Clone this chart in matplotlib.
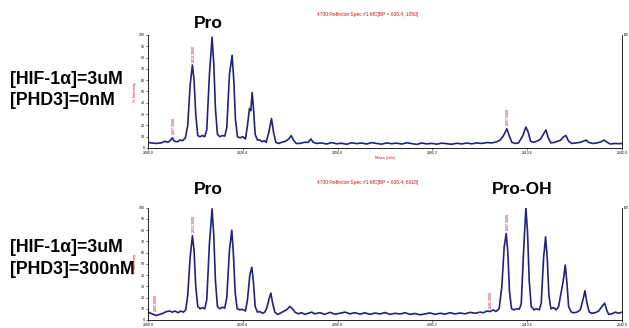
import matplotlib.pyplot as plt

plt.rcParams['font.family'] = ['Liberation Sans', 'DejaVu Sans']

# top spectrum: [HIF-1a]=3uM, [PHD3]=0nM  (m/z, % intensity)
top_mz = [2000.0, 2001.0, 2002.5, 2004.0, 2005.0, 2006.0, 2006.8, 2007.3, 2007.9, 2008.8,
          2009.6, 2010.4, 2011.2, 2011.9, 2012.6, 2013.3, 2013.8, 2014.3, 2014.9, 2015.6,
          2016.3, 2017.0, 2017.6, 2018.4, 2019.2, 2019.7, 2020.2, 2020.8, 2021.5, 2022.3,
          2023.0, 2023.6, 2024.4, 2025.2, 2025.7, 2026.2, 2026.8, 2027.6, 2028.4, 2029.2,
          2029.8, 2030.4, 2030.8, 2031.2, 2031.6, 2032.1, 2032.8, 2033.5, 2034.2, 2034.8,
          2035.4, 2036.2, 2037.0, 2037.6, 2038.3, 2039.2, 2040.0, 2041.2, 2042.2, 2042.9,
          2043.6, 2044.4, 2045.5, 2046.8, 2048.0, 2048.8, 2049.5, 2050.6, 2052.0, 2053.5,
          2055.0, 2056.5, 2058.0, 2059.5, 2061.0, 2062.5, 2064.0, 2065.5, 2067.0, 2068.5,
          2070.0, 2071.5, 2073.0, 2074.5, 2076.0, 2077.5, 2079.0, 2080.5, 2082.0, 2083.5,
          2085.0, 2086.5, 2088.0, 2089.5, 2091.0, 2092.5, 2094.0, 2095.5, 2097.0, 2098.5,
          2100.0, 2101.5, 2103.0, 2104.5, 2105.5, 2106.5, 2107.5, 2108.2, 2109.0, 2110.0,
          2111.0, 2112.3, 2113.2, 2113.9, 2114.6, 2115.5, 2116.5, 2117.5, 2118.4, 2119.2,
          2119.9, 2120.7, 2121.8, 2122.8, 2123.7, 2124.5, 2125.2, 2126.0, 2127.0, 2128.2,
          2129.5, 2130.4, 2131.2, 2132.0, 2133.2, 2134.5, 2135.8, 2136.6, 2137.3, 2138.5,
          2139.8, 2141.0, 2142.0]
top_int = [5.0, 4.5, 4.0, 4.5, 6.0, 5.0, 7.0, 9.0, 6.0, 5.5,
           7.0, 6.5, 9.0, 20.0, 55.0, 73.5, 60.0, 30.0, 11.0, 10.0,
           11.0, 10.0, 16.0, 65.0, 98.0, 75.0, 35.0, 12.0, 10.0, 11.0,
           10.5, 18.0, 65.0, 82.0, 60.0, 25.0, 10.0, 9.0, 10.0, 8.0,
           20.0, 35.0, 33.0, 49.0, 35.0, 12.0, 7.0, 7.0, 5.5, 6.5,
           5.0, 14.0, 26.0, 14.0, 5.0, 4.0, 5.0, 6.0, 8.0, 11.0,
           7.0, 4.0, 4.0, 5.0, 5.0, 8.0, 5.0, 4.0, 4.5, 3.5,
           4.8, 3.7, 4.2, 3.3, 4.6, 3.9, 4.4, 3.5, 4.8, 4.0,
           3.4, 4.5, 3.8, 4.3, 3.5, 4.6, 3.9, 3.2, 4.4, 3.6,
           4.1, 3.4, 4.3, 3.8, 3.3, 4.2, 3.6, 4.4, 3.7, 4.5,
           4.0, 4.8, 4.5, 5.5, 7.0, 11.0, 17.0, 11.0, 5.0, 4.0,
           4.5, 11.0, 18.5, 14.0, 6.0, 5.0, 6.0, 7.5, 12.0, 16.0,
           9.0, 4.5, 5.0, 6.0, 7.0, 10.0, 11.0, 6.0, 4.0, 4.5,
           5.0, 6.0, 7.0, 5.0, 4.0, 4.5, 5.5, 7.0, 5.5, 3.5,
           4.0, 3.8, 4.0]

# bottom spectrum: [HIF-1a]=3uM, [PHD3]=300nM
bot_mz = [2000.0, 2000.8, 2001.6, 2002.5, 2003.5, 2004.5, 2005.5, 2006.5, 2007.3, 2008.1,
          2009.0, 2009.8, 2010.6, 2011.3, 2011.9, 2012.6, 2013.3, 2013.8, 2014.3, 2014.9,
          2015.6, 2016.3, 2017.0, 2017.6, 2018.4, 2019.2, 2019.7, 2020.2, 2020.8, 2021.5,
          2022.3, 2023.0, 2023.6, 2024.4, 2025.1, 2025.6, 2026.1, 2026.7, 2027.5, 2028.3,
          2029.2, 2029.8, 2030.5, 2031.1, 2031.6, 2032.1, 2032.8, 2033.5, 2034.3, 2035.0,
          2035.6, 2036.2, 2036.8, 2037.4, 2038.0, 2038.8, 2039.6, 2040.5, 2041.5, 2042.5,
          2043.3, 2044.0, 2045.0, 2046.0, 2047.0, 2048.0, 2049.0, 2050.0, 2051.5, 2053.0,
          2054.5, 2056.0, 2057.5, 2059.0, 2060.5, 2062.0, 2063.5, 2065.0, 2066.5, 2068.0,
          2069.5, 2071.0, 2072.5, 2074.0, 2075.5, 2077.0, 2078.5, 2080.0, 2081.5, 2083.0,
          2084.5, 2086.0, 2087.5, 2089.0, 2090.5, 2092.0, 2093.5, 2095.0, 2096.5, 2098.0,
          2099.5, 2100.5, 2101.5, 2102.5, 2103.5, 2104.2, 2105.2, 2106.0, 2106.7, 2107.3,
          2107.8, 2108.3, 2108.9, 2109.6, 2110.4, 2111.2, 2111.8, 2112.5, 2113.2, 2113.7,
          2114.2, 2114.8, 2115.6, 2116.4, 2117.2, 2117.8, 2118.5, 2119.1, 2119.6, 2120.1,
          2120.7, 2121.5, 2122.3, 2123.0, 2124.4, 2125.0, 2125.5, 2126.0, 2126.8, 2127.6,
          2128.5, 2129.5, 2130.3, 2130.9, 2131.5, 2132.2, 2133.0, 2134.0, 2135.0, 2136.0,
          2136.8, 2137.4, 2138.0, 2139.0, 2140.0, 2141.0, 2142.0]
bot_int = [7.0, 6.0, 5.0, 4.0, 5.0, 6.0, 7.5, 8.0, 7.0, 8.0,
           6.5, 8.0, 7.0, 9.0, 22.0, 55.0, 75.0, 62.0, 30.0, 12.0,
           10.0, 11.0, 10.0, 18.0, 68.0, 99.0, 75.0, 35.0, 12.0, 10.0,
           11.5, 10.5, 20.0, 62.0, 80.0, 58.0, 25.0, 10.0, 9.0, 9.5,
           8.0, 18.0, 40.0, 47.0, 33.0, 12.0, 7.0, 7.5, 6.0, 7.0,
           11.0, 18.0, 24.0, 14.0, 7.0, 5.0, 6.0, 7.5, 9.0, 12.0,
           10.0, 7.0, 5.5, 6.5, 5.0, 6.0, 7.0, 5.5, 6.5, 5.0,
           6.8, 5.2, 6.0, 7.0, 5.5, 6.5, 5.2, 6.4, 5.0, 6.2,
           5.4, 6.6, 5.0, 6.0, 5.3, 6.5, 5.0, 5.8, 4.6, 5.5,
           6.3, 5.0, 6.0, 5.2, 6.5, 5.4, 6.2, 5.5, 6.8, 6.0,
           7.0, 6.5, 8.0, 7.5, 9.0, 7.5, 10.0, 30.0, 65.0, 77.0,
           60.0, 25.0, 10.0, 9.0, 10.0, 9.5, 14.0, 60.0, 100.0, 78.0,
           35.0, 12.0, 9.0, 10.0, 9.0, 15.0, 55.0, 74.0, 55.0, 22.0,
           10.0, 11.0, 9.0, 12.0, 35.0, 49.0, 33.0, 12.0, 7.0, 6.5,
           7.0, 9.0, 18.0, 26.0, 15.0, 7.0, 6.0, 6.5, 8.0, 12.0,
           15.0, 9.0, 5.0, 5.5, 7.0, 6.0, 7.0]

# peak labels (m/z, height) shown in red
top_labels = [(2007.3, 9.0), (2013.3, 73.5), (2107.5, 17.0)]
bot_labels = [(2002.0, 5.0), (2013.3, 75.0), (2102.2, 8.0), (2107.3, 77.0)]

top_bp = "4700 Reflector Spec #1 MC[BP = 630.4, 1050]"
bot_bp = "4700 Reflector Spec #1 MC[BP = 630.4, 6018]"
x_ticks = [2000.0, 2028.4, 2056.8, 2085.2, 2113.6, 2142.0]

fig = plt.figure(figsize=(6.29, 3.28), dpi=100)
ax_top = fig.add_axes([0.2353, 0.5488, 0.7536, 0.3445])
ax_bot = fig.add_axes([0.2353, 0.0244, 0.7536, 0.3424])

line_color = '#22227a'
red = '#d01010'


def draw_panel(ax, mz, inten, labels, bp, title_pad):
    ax.plot(mz, inten, color=line_color, lw=1.2)
    ax.set_xlim(2000, 2142)
    ax.set_ylim(0, 100)
    ax.spines['top'].set_visible(False)
    for s in ['left', 'bottom', 'right']:
        ax.spines[s].set_linewidth(0.6)
    ax.set_xticks(x_ticks)
    ax.set_xticklabels([f"{t:.1f}" for t in x_ticks])
    ax.set_yticks(range(0, 101, 10))
    ax.tick_params(axis='both', labelsize=2.5, length=1.5, width=0.4, pad=1)
    ax.set_ylabel("% Intensity", color=red, fontsize=3, labelpad=1)
    ax.set_xlabel("Mass (m/z)", color=red, fontsize=3, labelpad=0.5)
    ax.set_title(bp, color=red, fontsize=3.5, x=0.464, pad=title_pad)
    ax.text(1.003, 1.0, "100", transform=ax.transAxes, fontsize=2.2,
            ha='left', va='center')
    for x, h in labels:
        ax.text(x + 0.4, h + 3, f"{x:.4f}", color='#a01010', fontsize=2.5,
                rotation=90, ha='center', va='bottom')


draw_panel(ax_top, top_mz, top_int, top_labels, top_bp, 14)
draw_panel(ax_bot, bot_mz, bot_int, bot_labels, bot_bp, 17)

bold = dict(fontsize=12.5, fontweight='bold', color='black')
fig.text(208 / 629, 1 - 24 / 328, "Pro", ha='center', va='center', **bold)
fig.text(208 / 629, 1 - 190 / 328, "Pro", ha='center', va='center', **bold)
fig.text(522 / 629, 1 - 190 / 328, "Pro-OH", ha='center', va='center', **bold)

side = dict(fontsize=12.8, fontweight='bold', color='black', ha='left', va='center')
fig.text(10 / 629, 1 - 79 / 328, "[HIF-1α]=3uM", **side)
fig.text(10 / 629, 1 - 100 / 328, "[PHD3]=0nM", **side)
fig.text(10 / 629, 1 - 248 / 328, "[HIF-1α]=3uM", **side)
fig.text(10 / 629, 1 - 269 / 328, "[PHD3]=300nM", **side)

fig.savefig("out.png", dpi=100)
